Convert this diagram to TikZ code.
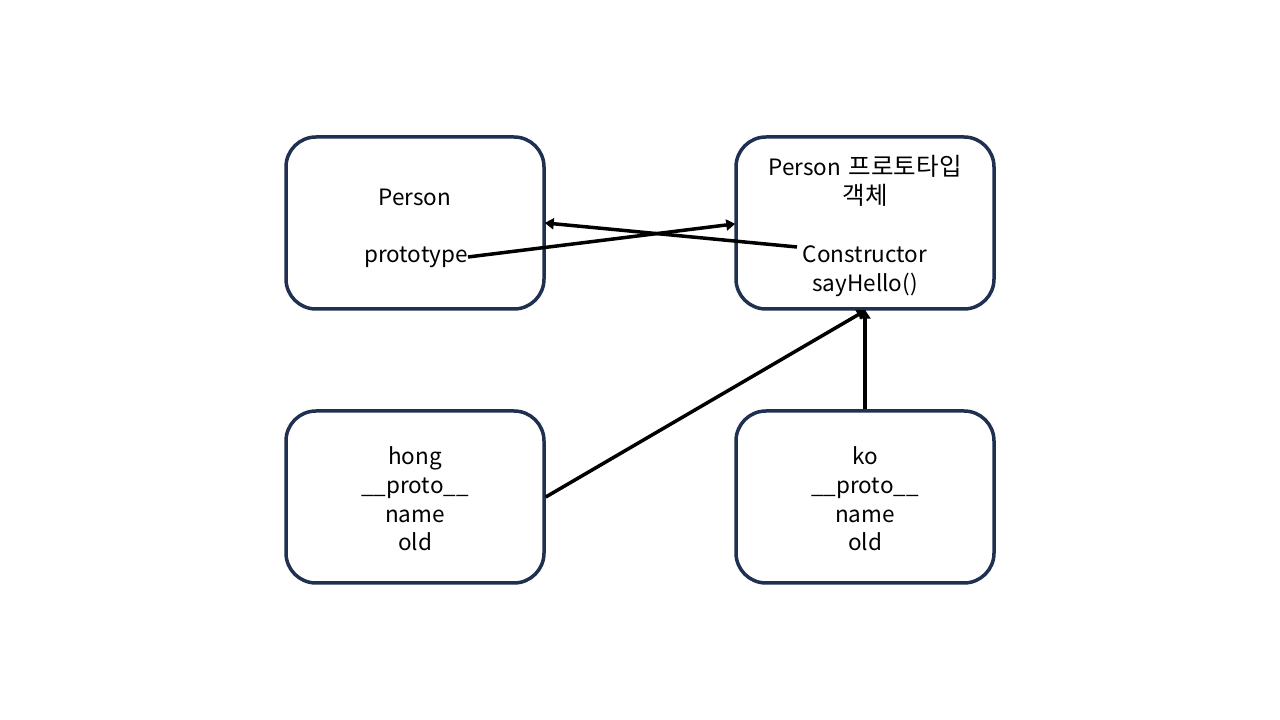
\documentclass[tikz,border=0pt]{standalone}
\usepackage{fontspec}
\setmainfont{Noto Sans CJK KR}
\usetikzlibrary{arrows.meta}
\definecolor{boxnavy}{HTML}{1F3050}
\tikzset{
  box/.style={draw=boxnavy, line width=3.5pt, rounded corners=30pt, minimum width=258pt, minimum height=172pt, inner sep=0pt},
  lbl/.style={inner sep=0pt, font=\fontsize{22.5}{28.7}\selectfont, align=center},
  conn/.style={draw=black, line width=3.5pt, -{Triangle[length=9pt,width=11pt]}, shorten >=-1pt}
}
\begin{document}
\begin{tikzpicture}[x=1pt,y=1pt]
\useasboundingbox (0,0) rectangle (1280,720);
% boxes
\node[box] (person) at (415,497) {};
\node[box] (pproto) at (865,497) {};
\node[box] (hong) at (415,223) {};
\node[box] (ko) at (865,223) {};
% texts
\node[lbl] (tperson) at (415,523) {Person};
\node[lbl, anchor=east] (tprototype) at (468,463) {prototype};
\node[lbl] (tpp) at (865,539) {Person\hspace{0.35em}{\fontsize{24.5}{28.7}\selectfont 프로토타입}\\{\fontsize{24.5}{28.7}\selectfont 객체}};
\node[lbl] (tcons) at (865,449) {Constructor\\sayHello()};
\node[lbl] (thong) at (415,221) {hong\\\_\_proto\_\_\\name\\old};
\node[lbl] (tko) at (865,221) {ko\\\_\_proto\_\_\\name\\old};
% endpoints
\coordinate (c1) at (pproto.west |- 0,496);
\coordinate (c2) at (person.east |- 0,497);
\coordinate (s2) at (797,473);
\coordinate (s3) at (hong.east |- 0,223);
% connectors
\draw[conn] (tprototype.east) -- (c1);
\draw[conn] (s2) -- (c2);
\draw[conn] (s3) -- (pproto.south);
\draw[conn] (ko.north) -- (pproto.south);
\end{tikzpicture}
\end{document}
